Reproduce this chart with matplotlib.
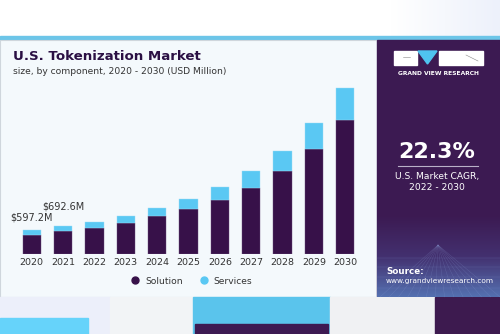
import matplotlib
matplotlib.use("Agg")
import matplotlib.pyplot as plt
from matplotlib.patches import Rectangle, Polygon
import numpy as np

years = ["2020", "2021", "2022", "2023", "2024", "2025", "2026", "2027", "2028", "2029", "2030"]
solution = [488, 570, 652, 784, 942, 1131, 1347, 1652, 2073, 2611, 3323]
services = [109.2, 122.6, 156, 174, 213, 248, 330, 421, 496, 638, 809]
labels = {0: "$597.2M", 1: "$692.6M"}

title = "U.S. Tokenization Market"
subtitle = "size, by component, 2020 - 2030 (USD Million)"
cagr = "22.3%"
cagr_text = "U.S. Market CAGR,\n2022 - 2030"

C_SOL = "#371149"
C_SER = "#5ac8f3"
C_PANEL = "#3c1a52"
TXT = "#333333"

W, H = 500, 334
fig = plt.figure(figsize=(W / 100, H / 100), dpi=100)
fig.patch.set_facecolor("white")

bg = fig.add_axes([0, 0, 1, 1])
bg.set_xlim(0, W)
bg.set_ylim(H, 0)
bg.axis("off")

LSC = matplotlib.colors.LinearSegmentedColormap
grad = np.linspace(0, 1, 100)[None, :]
bg.imshow(grad, extent=(390, 500, 36, 0), cmap=LSC.from_list("g", ["#ffffff", "#edf1fb"]),
          aspect="auto", zorder=0)
bg.add_patch(Rectangle((0, 36), W, 4, color="#6cc5e8", zorder=1))
bg.add_patch(Rectangle((0, 40), 377, 257, facecolor="#f4f9fc", edgecolor="#cfd6dc", lw=0.8, zorder=1))
bg.add_patch(Rectangle((377, 40), 123, 257, color=C_PANEL, zorder=1))
g2 = np.linspace(0, 1, 100)[:, None]
cm2 = LSC.from_list("g2", [C_PANEL, "#43306f", "#5470b0"])
bg.imshow(g2, extent=(377, 500, 297, 215), cmap=cm2, aspect="auto", zorder=1.5, origin="upper")
for xx in np.linspace(380, 500, 14):
    bg.plot([438, xx], [245, 297], color="#8fa0d8", lw=0.3, alpha=0.3, zorder=1.6)
for yy in [258, 267, 277, 288]:
    bg.plot([377, 500], [yy, yy], color="#8fa0d8", lw=0.3, alpha=0.3, zorder=1.6)

bg.add_patch(Rectangle((0, 297), 110, 37, color="#eceffa", zorder=1))
bg.add_patch(Rectangle((0, 318), 88, 16, color="#66d3fa", zorder=1.2))
bg.add_patch(Rectangle((110, 297), 83, 37, color="#f2f4f6", zorder=1))
bg.add_patch(Rectangle((193, 297), 137, 37, color="#5ac4ec", zorder=1))
bg.add_patch(Rectangle((195, 324), 133, 10, color="#3d1a52", zorder=1.2))
bg.add_patch(Rectangle((330, 297), 105, 37, color="#f0f1f3", zorder=1))
bg.add_patch(Rectangle((435, 297), 65, 37, color="#3d1a4f", zorder=1))

bg.add_patch(Rectangle((394, 51), 23, 14, color="white", zorder=2))
bg.add_patch(Polygon([(418, 51), (437, 51), (427.5, 64)], closed=True, color="#4fc3ef", zorder=2))
bg.add_patch(Rectangle((439, 51), 44, 14, color="white", zorder=2))
bg.plot([403, 410], [57, 57], color="#888888", lw=0.4, zorder=3)
bg.plot([466, 478], [55, 61], color="#888888", lw=0.4, zorder=3)
bg.text(438, 73.5, "GRAND VIEW RESEARCH", color="white", fontsize=4.3, fontweight="bold",
        ha="center", va="center", zorder=3)

bg.text(437, 152, cagr, color="white", fontsize=16, fontweight="bold", ha="center", va="center", zorder=3)
bg.plot([398, 478], [166, 166], color="#b9b0c8", lw=0.8, zorder=3)
bg.text(437, 182, cagr_text, color="white", fontsize=6.6, ha="center", va="center",
        linespacing=1.35, zorder=3)
bg.text(386, 271, "Source:", color="white", fontsize=6.3, fontweight="bold", ha="left", va="center", zorder=3)
bg.text(386, 281.5, "www.grandviewresearch.com", color="white", fontsize=5.3, ha="left", va="center", zorder=3)

bg.text(13, 57, title, color="#2b1044", fontsize=9.6, fontweight="bold", ha="left", va="center", zorder=3)
bg.text(13, 71, subtitle, color=TXT, fontsize=6.6, ha="left", va="center", zorder=3)

left_px, right_px = 16, 361
base_px, top_px = 254.3, 80
ax = fig.add_axes([left_px / W, 1 - base_px / H, (right_px - left_px) / W, (base_px - top_px) / H])
ax.set_facecolor("none")
ax.set_xlim(-0.5, 10.5)
ax.set_ylim(0, 174.3 * 24.8)
x = np.arange(len(years))
bw = 0.58
ax.bar(x, solution, width=bw, color=C_SOL, edgecolor="#6a4f7a", linewidth=0.3, label="Solution")
ax.bar(x, services, bottom=solution, width=bw, color=C_SER, edgecolor="#9ddcf5", linewidth=0.3, label="Services")
for s in ax.spines.values():
    s.set_visible(False)
ax.set_yticks([])
ax.set_xticks(x)
ax.set_xticklabels(years, fontsize=6.8, color=TXT)
ax.tick_params(axis="x", length=0, pad=3)

offsets = {0: (0, 5.5), 1: (0, 11)}
for i, t in labels.items():
    tot = solution[i] + services[i]
    ax.annotate(t, (x[i], tot), xytext=offsets[i], textcoords="offset points",
                ha="center", va="bottom", fontsize=7, color=TXT)

fig.legend(handles=[plt.Line2D([], [], marker="o", ls="", color=C_SOL, markersize=5),
                    plt.Line2D([], [], marker="o", ls="", color=C_SER, markersize=5)],
           labels=["Solution", "Services"], loc="center", bbox_to_anchor=(189 / W, 1 - 281 / H),
           ncol=2, frameon=False, fontsize=6.6, handletextpad=0.1, columnspacing=1.3,
           labelcolor=TXT)

fig.savefig("out.png", dpi=100, facecolor=fig.get_facecolor())
